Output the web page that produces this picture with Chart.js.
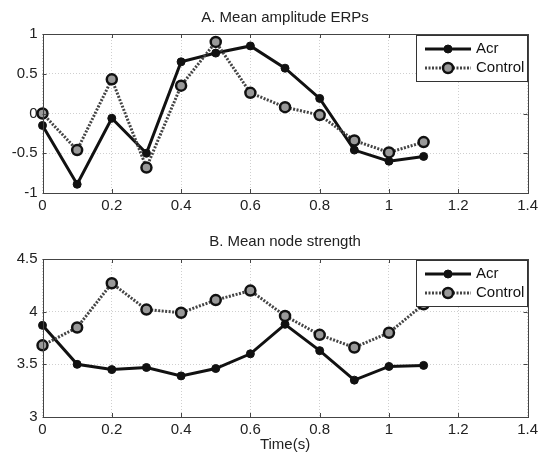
<!DOCTYPE html>
<html>
<head>
<meta charset="utf-8">
<script src="https://cdn.jsdelivr.net/npm/chart.js@4"></script>
<style>
  body { margin: 0; background: #fff; }
  .wrap { position: absolute; left: 0; width: 542px; }
</style>
</head>
<body>
<div class="wrap" style="top:0;height:215px"><canvas id="myChart" width="542" height="215"></canvas></div>
<div class="wrap" style="top:222px;height:235px"><canvas id="myChart2" width="542" height="235"></canvas></div>
<script>
const times = [0, 0.1, 0.2, 0.3, 0.4, 0.5, 0.6, 0.7, 0.8, 0.9, 1.0, 1.1];
const acrErp = [-0.15, -0.89, -0.06, -0.5, 0.65, 0.76, 0.85, 0.57, 0.19, -0.46, -0.6, -0.54];
const controlErp = [0, -0.46, 0.43, -0.68, 0.35, 0.9, 0.26, 0.08, -0.02, -0.34, -0.49, -0.36];
const acrStrength = [3.87, 3.5, 3.45, 3.47, 3.39, 3.46, 3.6, 3.88, 3.63, 3.35, 3.48, 3.49];
const controlStrength = [3.68, 3.85, 4.27, 4.02, 3.99, 4.11, 4.2, 3.96, 3.78, 3.66, 3.8, 4.07];
const seriesNames = ["Acr", "Control"];

Chart.defaults.font.family = "'Liberation Sans', Arial, sans-serif";
Chart.defaults.color = "#222";

const toPoints = (ys) => times.map((t, i) => ({ x: t, y: ys[i] }));
// matlab prints 1 not 1.0
const plainTick = (v) => String(+Number(v).toFixed(2));

// title centred over the axes, not the whole canvas
const axesTitle = {
  id: "axesTitle",
  afterDraw(chart, args, opts) {
    const { ctx, chartArea: a } = chart;
    ctx.save();
    ctx.fillStyle = "#222";
    ctx.font = "15px 'Liberation Sans', Arial, sans-serif";
    ctx.textAlign = "center";
    ctx.textBaseline = "middle";
    ctx.fillText(opts.text, (a.left + a.right) / 2, opts.y);
    ctx.restore();
  },
};

// matlab style box around the axes, with small inner ticks
const frame = {
  id: "frame",
  afterDatasetsDraw(chart) {
    const { ctx, chartArea: a, scales } = chart;
    ctx.save();
    ctx.strokeStyle = "#444";
    ctx.lineWidth = 1;
    ctx.setLineDash([]);
    ctx.strokeRect(Math.round(a.left) + 0.5, Math.round(a.top) + 0.5, Math.round(a.width), Math.round(a.height));
    ctx.beginPath();
    scales.x.ticks.forEach((t) => {
      const px = Math.round(scales.x.getPixelForValue(t.value)) + 0.5;
      ctx.moveTo(px, a.bottom); ctx.lineTo(px, a.bottom - 4);
      ctx.moveTo(px, a.top); ctx.lineTo(px, a.top + 4);
    });
    scales.y.ticks.forEach((t) => {
      const py = Math.round(scales.y.getPixelForValue(t.value)) + 0.5;
      ctx.moveTo(a.left, py); ctx.lineTo(a.left + 4, py);
      ctx.moveTo(a.right, py); ctx.lineTo(a.right - 4, py);
    });
    ctx.stroke();
    ctx.restore();
  },
};

const boxLegend = {
  id: "boxLegend",
  afterDraw(chart) {
    const { ctx, chartArea: a } = chart;
    const w = 112, h = 47;
    const x0 = Math.round(a.right - w), y0 = Math.round(a.top) + 1;
    ctx.save();
    ctx.fillStyle = "#fff";
    ctx.fillRect(x0, y0, w, h);
    ctx.strokeStyle = "#333";
    ctx.lineWidth = 1;
    ctx.strokeRect(x0 + 0.5, y0 + 0.5, w - 1, h - 1);
    chart.data.datasets.forEach((ds, i) => {
      const y = y0 + 14 + i * 19;
      ctx.setLineDash(ds.borderDash || []);
      ctx.strokeStyle = ds.borderColor;
      ctx.lineWidth = ds.borderWidth;
      ctx.beginPath();
      ctx.moveTo(x0 + 9, y);
      ctx.lineTo(x0 + 55, y);
      ctx.stroke();
      ctx.setLineDash([]);
      ctx.beginPath();
      ctx.arc(x0 + 32, y, ds.pointRadius, 0, Math.PI * 2);
      ctx.fillStyle = ds.pointBackgroundColor;
      ctx.fill();
      ctx.lineWidth = ds.pointBorderWidth;
      ctx.strokeStyle = ds.pointBorderColor;
      ctx.stroke();
      ctx.fillStyle = "#111";
      ctx.font = "15px 'Liberation Sans', Arial, sans-serif";
      ctx.textBaseline = "middle";
      ctx.fillText(ds.label, x0 + 60, y);
    });
    ctx.restore();
  },
};

function makeDatasets(acr, control) {
  return [
    {
      label: seriesNames[0],
      data: toPoints(acr),
      borderColor: "#111",
      borderWidth: 3,
      pointRadius: 4,
      pointBackgroundColor: "#111",
      pointBorderColor: "#111",
      pointBorderWidth: 1,
      order: 2,
      clip: false,
    },
    {
      label: seriesNames[1],
      data: toPoints(control),
      borderColor: "#444",
      borderWidth: 3,
      borderDash: [2, 1.5],
      pointRadius: 5,
      pointBackgroundColor: "#999",
      pointBorderColor: "#111",
      pointBorderWidth: 2.5,
      order: 1,
      clip: false,
    },
  ];
}

function makeConfig(datasets, opts) {
  return {
    type: "line",
    data: { datasets: datasets },
    options: {
      responsive: false,
      animation: false,
      layout: { padding: { left: 0, right: 13, top: opts.top, bottom: 0 } },
      plugins: {
        legend: { display: false },
        tooltip: { enabled: false },
        title: { display: false },
        axesTitle: { text: opts.title, y: opts.titleY },
      },
      scales: {
        x: {
          type: "linear",
          min: 0,
          max: 1.4,
          ticks: { stepSize: 0.2, padding: 4, font: { size: 15 }, color: "#222", callback: plainTick },
          grid: { color: "#cfcfcf", drawTicks: false },
          border: { display: false, dash: [1, 2] },
          title: {
            display: !!opts.xTitle,
            text: opts.xTitle,
            font: { size: 15 },
            color: "#222",
            padding: { top: 0, bottom: 3 },
          },
          afterFit: (scale) => { scale.height = opts.xHeight; },
        },
        y: {
          min: opts.yMin,
          max: opts.yMax,
          ticks: { stepSize: 0.5, padding: 5, font: { size: 15 }, color: "#222", callback: plainTick },
          grid: { color: "#cfcfcf", drawTicks: false },
          border: { display: false, dash: [1, 2] },
          afterFit: (scale) => { scale.width = 42.5; },
        },
      },
    },
    plugins: [axesTitle, frame, boxLegend],
  };
}

const myChart = new Chart(
  document.getElementById("myChart"),
  makeConfig(makeDatasets(acrErp, controlErp), {
    title: "A. Mean amplitude ERPs",
    titleY: 18,
    top: 34,
    yMin: -1,
    yMax: 1,
    xHeight: 22,
  })
);

const myChart2 = new Chart(
  document.getElementById("myChart2"),
  makeConfig(makeDatasets(acrStrength, controlStrength), {
    title: "B. Mean node strength",
    titleY: 20,
    top: 37,
    yMin: 3,
    yMax: 4.5,
    xHeight: 40,
    xTitle: "Time(s)",
  })
);
</script>
</body>
</html>
